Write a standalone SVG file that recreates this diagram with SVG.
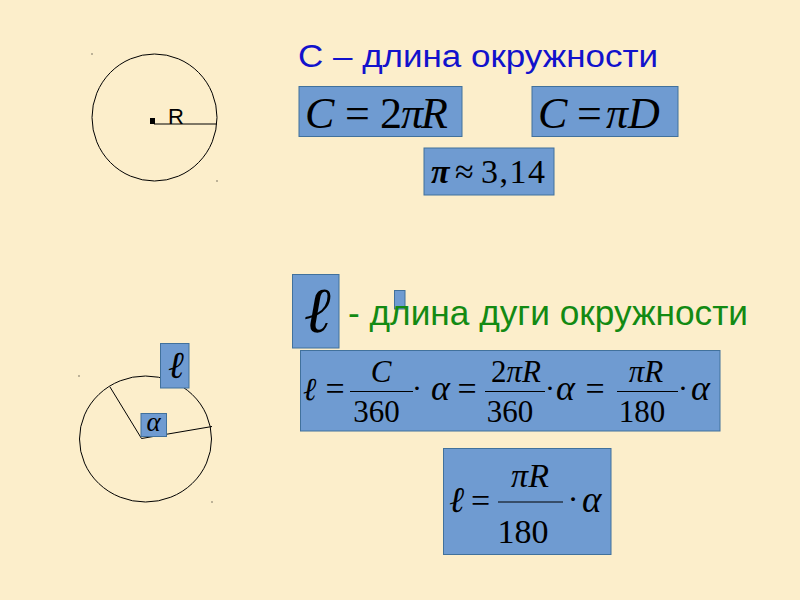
<svg xmlns="http://www.w3.org/2000/svg" width="800" height="600" viewBox="0 0 800 600">
<style>
.bg{fill:#FCEECB}
.box{fill:#6F9BD1;stroke:#41719C;stroke-width:1}
.ln{fill:none;stroke:#000;stroke-width:1}
.m{font-family:"Liberation Serif","Times New Roman",serif;fill:#000}
.i{font-style:italic}
.mid{text-anchor:middle}
.dot{fill:#000}
.sans{font-family:"Liberation Sans",Arial,sans-serif}
</style>
<rect class="bg" x="0" y="0" width="800" height="600"/>

<g id="circle-top">
<ellipse class="ln" cx="154.5" cy="117.5" rx="62.5" ry="63.5"/>
<line class="ln" x1="154" y1="124" x2="217" y2="124"/>
<rect class="dot" x="150" y="118" width="5" height="6"/>
<rect class="dot" x="91.5" y="53.5" width="1" height="1"/>
<rect class="dot" x="216.5" y="180.5" width="1" height="1"/>
<text class="sans" x="168" y="124" font-size="22">R</text>
</g>

<g id="title-c">
<text class="sans" x="298" y="66.5" font-size="31" fill="#1212CC" textLength="360" lengthAdjust="spacingAndGlyphs">С – длина окружности</text>
</g>

<g id="formula-c2pir">
<rect class="box" x="299" y="86.5" width="163" height="50"/>
<text class="m" y="128" font-size="44"><tspan class="i" x="305">C</tspan><tspan x="345">=</tspan><tspan x="380">2</tspan><tspan class="i" x="401">π</tspan><tspan class="i" x="421">R</tspan></text>
</g>

<g id="formula-cpid">
<rect class="box" x="532" y="86.5" width="146" height="50"/>
<text class="m" y="128" font-size="44"><tspan class="i" x="538">C</tspan><tspan x="577">=</tspan><tspan class="i" x="606">π</tspan><tspan class="i" x="628">D</tspan></text>
</g>

<g id="formula-pi">
<rect class="box" x="424" y="148" width="130" height="47"/>
<text class="m" y="183" font-size="34"><tspan class="i" x="431" font-weight="bold">π</tspan><tspan x="455">≈</tspan><tspan x="481" textLength="64">3,14</tspan></text>
</g>

<g id="circle-bottom">
<ellipse class="ln" cx="145.5" cy="439" rx="66" ry="63"/>
<line class="ln" x1="141.5" y1="438.5" x2="110" y2="387"/>
<line class="ln" x1="141.5" y1="438.5" x2="212" y2="426.5"/>
<rect class="dot" x="78.5" y="375.5" width="1" height="1"/>
<rect class="dot" x="211.5" y="501.5" width="1" height="1"/>
</g>

<g id="label-l">
<rect class="box" x="160.5" y="343.5" width="28.5" height="44.5"/>
<text class="m i mid" x="176" y="378" font-size="38">ℓ</text>
</g>

<g id="label-alpha">
<rect class="box" x="141" y="413.5" width="25.5" height="23"/>
<text class="m i mid" x="153.5" y="431" font-size="27">α</text>
</g>

<g id="title-l">
<rect class="box" x="292.5" y="274.5" width="46.5" height="73.5"/>
<text class="m i mid" x="317" y="332" font-size="64">ℓ</text>
<rect class="box" x="394.5" y="290.5" width="10.5" height="18.5"/>
<text class="sans" x="348" y="324.5" font-size="35" fill="#138A13" textLength="400" lengthAdjust="spacingAndGlyphs">- длина дуги окружности</text>
</g>

<g id="formula-arc">
<rect class="box" x="300.5" y="350.5" width="419.5" height="80.5"/>
<line class="ln" x1="350" y1="391.5" x2="413" y2="391.5"/>
<line class="ln" x1="485" y1="391.5" x2="545" y2="391.5"/>
<line class="ln" x1="617" y1="391.5" x2="678" y2="391.5"/>
<text class="m" y="400" font-size="32"><tspan class="i" x="303">ℓ</tspan><tspan class="i" x="431" font-size="36">α</tspan><tspan class="i" x="556" font-size="36">α</tspan><tspan class="i" x="691" font-size="36">α</tspan></text>
<text class="m mid" y="400" font-size="34"><tspan x="335">=</tspan><tspan x="467">=</tspan><tspan x="595">=</tspan></text>
<text class="m mid" y="398" font-size="30"><tspan x="417">·</tspan><tspan x="550">·</tspan><tspan x="683">·</tspan></text>
<text class="m mid" y="382" font-size="31"><tspan class="i" x="381">C</tspan><tspan x="516">2<tspan class="i">πR</tspan></tspan><tspan class="i" x="646">πR</tspan></text>
<text class="m mid" y="422" font-size="31"><tspan x="376.5">360</tspan><tspan x="510">360</tspan><tspan x="642">180</tspan></text>
</g>

<g id="formula-arc-short">
<rect class="box" x="443.5" y="448.5" width="167.5" height="106"/>
<line class="ln" x1="498" y1="502" x2="563" y2="502"/>
<text class="m i" x="449" y="512" font-size="36">ℓ</text>
<text class="m mid" y="512" font-size="34"><tspan x="480.5">=</tspan></text>
<text class="m mid" y="510" font-size="32"><tspan x="573">·</tspan></text>
<text class="m i" x="582" y="512" font-size="37">α</text>
<text class="m i mid" x="530" y="487" font-size="34">πR</text>
<text class="m mid" x="523" y="543" font-size="34">180</text>
</g>
</svg>
